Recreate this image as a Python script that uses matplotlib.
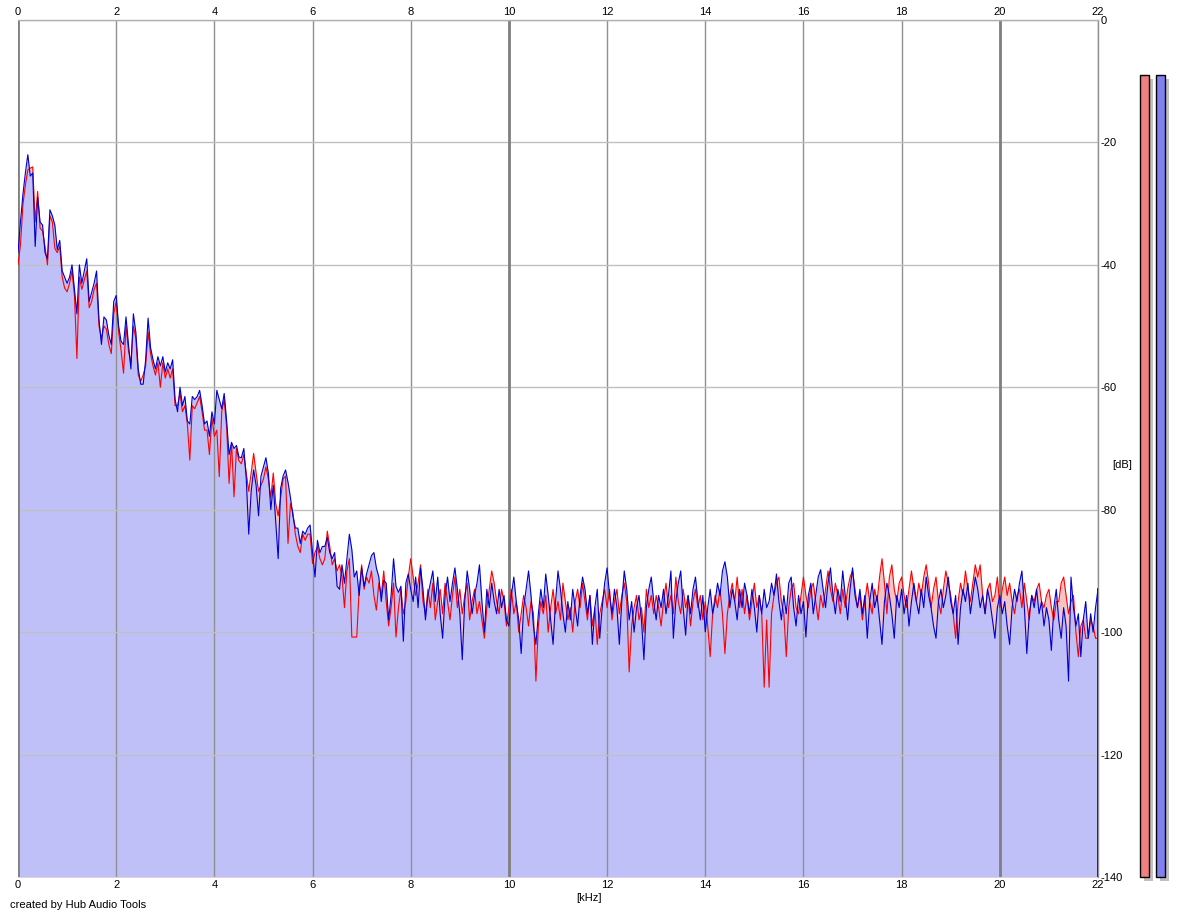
import numpy as np
import matplotlib
matplotlib.use("Agg")
import matplotlib.pyplot as plt

# spectrum readings, one value every 0.05 kHz from 0 to 22 kHz (10 per row = 0.5 kHz)
blue_db = [
    -38, -33, -28.5, -25, -22, -25.5, -25, -37, -29, -33,
    -33.5, -38, -39, -31, -32, -33.5, -37.5, -36, -41, -42,
    -43, -42, -40, -44, -48, -40, -43, -41, -39, -46,
    -44.5, -43, -41, -49, -53, -48.5, -49, -51.5, -53, -46,
    -45, -50, -52.5, -53, -48.5, -53, -57, -48, -51, -57,
    -59.5, -59.5, -55.5, -48.7, -53.5, -55.5, -57, -55, -56.5, -55,
    -57.5, -56, -57, -55.5, -62, -64, -60, -63, -61.5, -65.5,
    -66, -61.5, -62, -61.5, -60.5, -63, -66, -65.5, -68, -64,
    -66, -60.5, -62, -63.5, -61, -65.5, -71, -69, -70, -69.5,
    -71.4, -71.5, -70, -75, -84, -77, -73.5, -76, -81, -74.5,
    -73, -71.5, -74, -80, -76, -82, -88, -76.5, -74.5, -73.5,
    -75.5, -78, -81, -83, -83, -85.5, -83.5, -84, -83, -82.5,
    -87, -91, -85, -87, -86, -86, -84.5, -87, -88, -87,
    -92.5, -93, -89, -92, -88, -84, -86.5, -91, -90, -94,
    -89.5, -92.5, -90.5, -89, -87.5, -87, -89.5, -91, -95, -91.5,
    -92, -98, -94, -88, -92.5, -93.5, -92.5, -101.5, -92, -90.5,
    -93, -95, -91, -96, -89.5, -93, -98, -94, -92, -90,
    -95, -91, -97, -101, -94, -91, -95, -92, -89.5, -93,
    -97, -104.5, -95, -90, -93, -97, -94, -92, -89, -95,
    -100, -93, -96, -92, -95, -97, -93, -96, -94, -98,
    -99, -94, -91, -95, -98, -103.5, -96, -93, -90, -94,
    -99, -102, -97, -93, -96, -90.5, -94, -98, -102, -95,
    -90, -93, -97, -100, -95, -98, -93, -96, -99, -94,
    -91, -93, -97, -94, -102, -96, -93, -101, -96, -92,
    -89.5, -94, -97, -93, -96, -102, -95, -90, -93, -98,
    -95, -100, -96, -94, -98, -104.5, -96, -93, -91, -95,
    -98, -94, -96, -93, -97, -94, -90, -101, -95, -92,
    -90, -96, -100.5, -94, -97, -93, -91, -95, -98, -94,
    -100, -96, -93, -97, -95, -92, -94, -90, -88.5, -91,
    -96, -93, -95, -98, -93, -96, -92, -94, -97, -93,
    -96, -100, -94, -97, -93, -96, -95, -92, -94, -90.5,
    -95, -98, -94, -97, -92, -91, -96, -99, -94, -97,
    -95, -100.8, -94, -92, -97, -94, -91, -89.8, -93, -96,
    -92, -89.5, -94, -97, -93, -95, -90, -94, -98, -93,
    -89.5, -94, -96, -93, -97, -94, -101, -95, -92, -96,
    -94, -98, -102, -95, -92, -94, -97, -101, -94, -96,
    -93, -97, -94, -99, -95, -92, -95, -97, -93, -96,
    -91, -94, -96, -99, -101, -95, -93, -96, -94, -91,
    -95, -97, -94, -102, -96, -93, -95, -92, -97, -94,
    -91, -93, -96, -94, -97, -93, -95, -98, -101, -96,
    -94, -97, -95, -99, -102, -96, -93, -95, -92, -90,
    -96, -103.5, -97, -94, -96, -93, -97, -95, -99, -96,
    -98, -103, -96, -93, -98, -101, -96, -99, -108, -91,
    -96, -99, -97, -104, -98, -95, -101, -97, -100, -96,
    -93,
]

red_db = [
    -40, -36.8, -30.2, -27, -24.5, -24.2, -24, -33, -28, -34,
    -34.5, -37, -40, -32, -33, -37.3, -38, -37, -42, -43.8,
    -44.4, -43, -41, -45, -55.3, -42, -44, -42.5, -41, -47,
    -46, -44, -43, -50, -52, -50, -50.5, -53, -54.5, -48,
    -46, -51, -54, -57.7, -50, -54, -56, -50, -52, -58,
    -59, -58, -56.5, -51, -54.5, -56.5, -58, -56, -60, -56,
    -58.5, -57, -58.5, -57, -63, -63, -61, -64, -63, -66,
    -71.9, -63, -63.5, -62.5, -61.5, -64, -67, -67, -71, -65,
    -68, -67, -74.6, -64, -62, -66.5, -75.7, -69, -77.9, -70,
    -72, -72.5, -71, -74, -77, -74, -70.8, -74, -77, -76,
    -75, -73, -75, -78, -74, -79, -81, -78, -75, -74.5,
    -85.5, -79, -80.5, -84, -86, -87, -84, -85, -84, -84,
    -88.8, -87, -86, -88, -89, -88, -83.5, -86, -89, -88,
    -90, -89, -91, -96, -90, -88, -100.8, -100.8, -100.8, -93,
    -89, -93, -91, -92, -90, -94, -96.4, -92, -94, -90,
    -95, -99, -96, -92, -100.8, -96, -93, -97, -95, -91,
    -88, -91, -94, -92, -89, -95, -97, -93, -96, -92,
    -98, -95, -93, -97, -92, -95, -98, -94, -91, -96,
    -93, -97, -94, -92, -98, -95, -93, -97, -95, -98,
    -101, -96, -93, -90, -92, -95, -97, -93, -95, -99,
    -96, -93, -97, -95, -100, -97, -94, -96, -99, -95,
    -97, -108, -99, -95, -97, -94, -100, -96, -93, -97,
    -95, -98, -92, -95, -98, -96, -100, -95, -93, -96,
    -92, -95, -98, -94, -99, -96, -102, -97, -95, -93,
    -96, -93, -98, -95, -93, -97, -94, -92, -95, -106.5,
    -99, -96, -94, -98, -96, -100, -93, -96, -94, -97,
    -94, -96, -99, -95, -92, -96, -94, -97, -91, -95,
    -97, -93, -96, -94, -99, -95, -93, -96, -94, -98,
    -95, -99, -104, -97, -94, -96, -93, -97, -103.5, -97,
    -94, -92, -95, -91, -96, -93, -97, -94, -98, -95,
    -92, -96, -94, -97, -109, -98, -109, -97, -94, -92,
    -91, -95, -97, -104, -96, -93, -92, -96, -97, -94,
    -91, -94, -96, -93, -92, -95, -98, -94, -96, -93,
    -90, -93, -95, -92, -94, -97, -93, -96, -93, -91,
    -90, -93, -96, -94, -98, -95, -92, -95, -97, -93,
    -95, -91, -88, -92, -97, -91, -89, -93, -95, -92,
    -91, -94, -96, -93, -90, -93, -95, -92, -94, -91,
    -89, -92, -96, -93, -91, -95, -97, -93, -90, -92,
    -94, -97, -101, -95, -92, -94, -90, -93, -95, -92,
    -89, -91, -89, -94, -97, -93, -92, -95, -94, -91,
    -96, -93, -91, -94, -92, -95, -97, -94, -93, -96,
    -92, -95, -98, -94, -95, -93, -92, -95, -96, -94,
    -93, -96, -98, -95, -95, -92, -91, -94, -97, -95,
    -94, -100, -104, -99, -98, -101, -101, -98, -99, -101,
    -101,
]

freq_khz = np.arange(len(blue_db)) * 0.05

x_ticks = list(range(0, 23, 2))
y_ticks = list(range(-140, 1, 20))
meter_db = [-9, -9]

plt.rcParams["font.family"] = ["Liberation Sans", "DejaVu Sans"]
plt.rcParams["font.size"] = 8

W, H = 1180, 917
fig = plt.figure(figsize=(W / 100, H / 100), dpi=100)
ax = fig.add_axes([18 / W, 40 / H, 1080 / W, 857 / H])

floor = -140
ax.fill_between(freq_khz, red_db, floor, color="#f4c4c4", lw=0, zorder=1)
ax.fill_between(freq_khz, blue_db, floor, color="#c0c0f8", lw=0, zorder=1.1)
ax.plot(freq_khz, red_db, color="#ff0000", lw=0.8, zorder=3)
ax.plot(freq_khz, blue_db, color="#0000cc", lw=0.8, zorder=3.1)
# blue edge running down at the right end of the fill
ax.plot([freq_khz[-1], freq_khz[-1]], [blue_db[-1], floor], color="#0000cc", lw=1.2, zorder=3.1)

ax.set_xlim(0, 22)
ax.set_ylim(-140, 0)
ax.set_xticks(x_ticks)
ax.set_yticks(y_ticks)
ax.set_xticklabels([str(t) for t in x_ticks])
ax.set_yticklabels([str(t) for t in y_ticks])

ax.yaxis.tick_right()
ax.tick_params(axis="x", top=True, labeltop=True, bottom=True, labelbottom=True,
               length=0, pad=2, labelsize=8)
ax.tick_params(axis="y", length=0, pad=2, labelsize=8)

ax.set_axisbelow("line")
ax.yaxis.grid(True, color="#c0c0c0", lw=1)
ax.xaxis.grid(True, color="#909090", lw=1)
for k in (0, 10, 20):
    ax.axvline(k, color="#808080", lw=2, zorder=2)

for side in ("left", "bottom"):
    ax.spines[side].set_visible(False)
ax.spines["top"].set_color("#b0b0b0")
ax.spines["right"].set_color("#909090")
ax.spines["top"].set_linewidth(1)
ax.spines["right"].set_linewidth(1)

fig.text(589 / W, 1 - 898 / H, "[kHz]", ha="center", va="center")
fig.text(1122 / W, 1 - 465 / H, "[dB]", ha="center", va="center")
fig.text(10 / W, 1 - 905 / H, "created by Hub Audio Tools", ha="left", va="center")

# level meters on the right
mx = fig.add_axes([1130 / W, 40 / H, 50 / W, 857 / H])
mx.set_xlim(0, 50)
mx.set_ylim(-140, 0)
mx.axis("off")
meter_x = [10, 26]
meter_colors = ["#f08080", "#8080f0"]
for xpos, lvl, col in zip(meter_x, meter_db, meter_colors):
    mx.bar(xpos + 3.5, lvl - floor, bottom=floor - 0.6, width=9, align="edge",
           color="#c0c0c0", lw=0, clip_on=False, zorder=1)
    mx.bar(xpos, lvl - floor, bottom=floor, width=9, align="edge",
           color=col, edgecolor="#000000", lw=1, clip_on=False, zorder=2)

fig.savefig("out.png", dpi=100)
